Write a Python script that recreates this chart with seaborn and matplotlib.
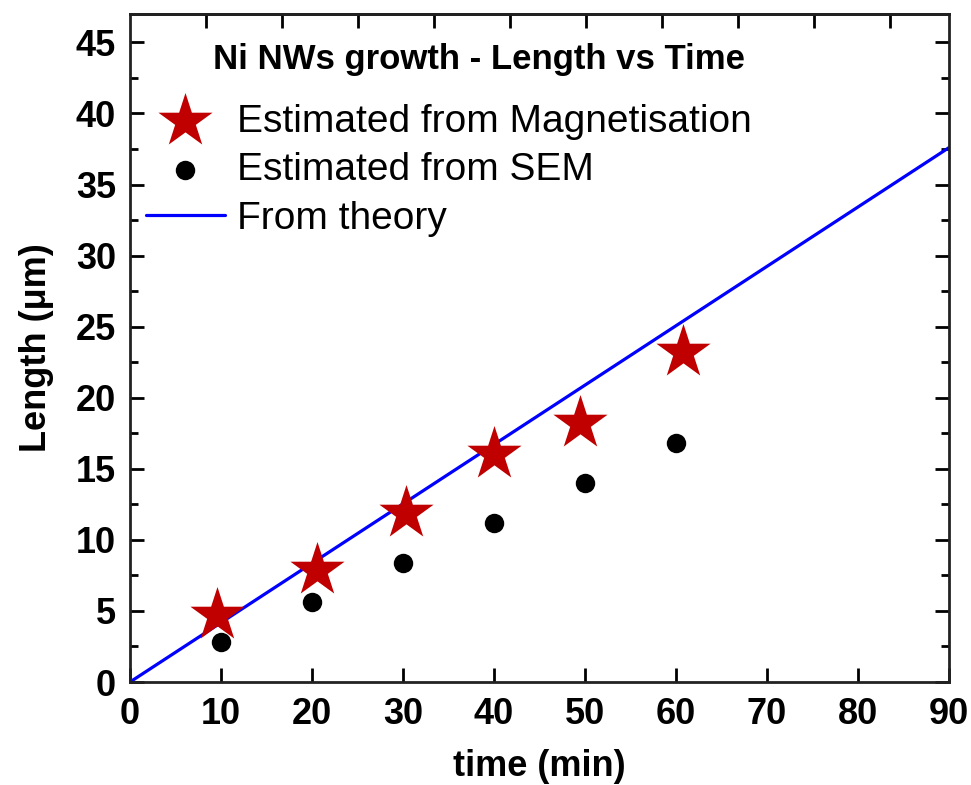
import numpy as np
import pandas as pd
import matplotlib
matplotlib.use('Agg')
import matplotlib.pyplot as plt
import seaborn as sns

# Data
time_mag = [9.6, 20.6, 30.3, 40.0, 49.5, 60.8]
len_mag = [4.7, 7.85, 11.9, 16.05, 18.2, 23.2]
time_sem = [10, 20, 30, 40, 50, 60]
len_sem = [2.8, 5.6, 8.4, 11.2, 14.0, 16.8]
time_th = [0, 90]
len_th = [0, 37.6]
xticks = [0, 10, 20, 30, 40, 50, 60, 70, 80, 90]
yticks = [0, 5, 10, 15, 20, 25, 30, 35, 40, 45]

sns.set_style('ticks')
plt.rcParams['font.family'] = ['Liberation Sans', 'DejaVu Sans']
for k in ['text.color', 'axes.labelcolor', 'xtick.color', 'ytick.color', 'axes.edgecolor']:
    plt.rcParams[k] = 'black'

fig = plt.figure(figsize=(9.71, 7.85), dpi=100)
ax = fig.add_axes([130/971, 1-682/785, (949-130)/971, (682-14)/785])

df_mag = pd.DataFrame({'t': time_mag, 'L': len_mag})
df_sem = pd.DataFrame({'t': time_sem, 'L': len_sem})
df_th = pd.DataFrame({'t': time_th, 'L': len_th})

STAR = 41
DOT = 14
sns.lineplot(data=df_th, x='t', y='L', ax=ax, color='#0000FF', lw=2.3,
             label='From theory', zorder=2)
sns.scatterplot(data=df_sem, x='t', y='L', ax=ax, marker='o', s=DOT**2,
                color='black', edgecolor='black', linewidth=0,
                label='Estimated from SEM', zorder=3)
sns.scatterplot(data=df_mag, x='t', y='L', ax=ax, marker='*', s=STAR**2,
                color='#C00000', edgecolor='#C00000', linewidth=0,
                label='Estimated from Magnetisation', zorder=4)

ax.set_xlim(0, 90)
ax.set_ylim(0, 47)
ax.set_xticks(xticks)
ax.set_yticks(yticks)
ax.set_xticks([], minor=True)
ax.set_yticks(np.arange(2.5, 47, 5), minor=True)
ax.tick_params(axis='both', which='major', direction='in', length=10, width=2,
               labelsize=26, pad=10)
ax.tick_params(axis='y', which='both', right=True, direction='in')
ax.tick_params(axis='y', which='minor', length=6, width=2)
ax.tick_params(axis='x', which='major', pad=11)
for lab in ax.get_xticklabels() + ax.get_yticklabels():
    lab.set_fontweight('bold')

sec = ax.secondary_xaxis('top')
sec.set_xticks(np.arange(8.35, 90, 8.35))
sec.set_xticklabels([])
sec.tick_params(direction='in', length=10, width=2)
sec.spines['top'].set_linewidth(2)

for sp in ax.spines.values():
    sp.set_linewidth(2)
    sp.set_color('#222222')

ax.set_xlabel('time (min)', fontsize=26, fontweight='bold', labelpad=12)
ax.set_ylabel('Length (μm)', fontsize=26, fontweight='bold', labelpad=16)

handles, labels = ax.get_legend_handles_labels()
order = [2, 1, 0]
leg = ax.legend([handles[i] for i in order], [labels[i] for i in order],
                loc='upper left', bbox_to_anchor=(0.0, 0.889), frameon=False,
                fontsize=28, handlelength=2.05, handletextpad=0.3,
                labelspacing=0.32, borderaxespad=0)
leg.legend_handles[0].set_sizes([STAR**2])
leg.legend_handles[1].set_sizes([DOT**2])

fig.text(213/971, 1-60/785, 'Ni NWs growth - Length vs Time', fontsize=25,
         fontweight='bold', ha='left', va='center')

fig.savefig('out.png', dpi=100)
